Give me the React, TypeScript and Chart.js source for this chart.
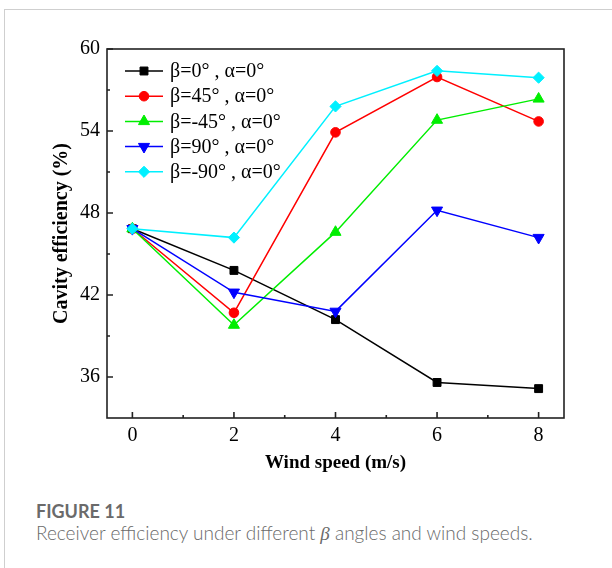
import React, { useEffect, useRef } from "react";
import { Chart, registerables } from "chart.js";

Chart.register(...registerables);

// ---- data ----
const windSpeeds = [0, 2, 4, 6, 8];
const seriesLabels = [
  "β=0° , α=0°",
  "β=45° , α=0°",
  "β=-45° , α=0°",
  "β=90° , α=0°",
  "β=-90° , α=0°",
];
const beta0 = [46.85, 43.8, 40.2, 35.6, 35.15];
const beta45 = [46.85, 40.7, 53.9, 57.95, 54.7];
const betaM45 = [46.85, 39.8, 46.6, 54.8, 56.35];
const beta90 = [46.85, 42.2, 40.8, 48.2, 46.2];
const betaM90 = [46.85, 46.2, 55.8, 58.4, 57.9];

const xTicks = [0, 2, 4, 6, 8];
const xMinorTicks = [1, 3, 5, 7];
const yTicks = [36, 42, 48, 54, 60];
const yMinorTicks = [39, 45, 51, 57];

const seriesColors = ["#000000", "#ff0000", "#00ee00", "#0000ff", "#00f0ff"];
const seriesPointStyles = ["rect", "circle", "triangle", "triangle", "rectRot"];
const seriesPointRotation = [0, 0, 0, 180, 0];
const seriesPointRadius = [5.6, 4.8, 6.4, 6.4, 5.6];

const serif = "'Liberation Serif', 'Times New Roman', serif";

const frameAndTicks = {
  id: "frameAndTicks",
  afterDatasetsDraw(chart: any) {
    const { ctx, chartArea } = chart;
    const { left, right, top, bottom } = chartArea;
    const xs = chart.scales.x;
    const ys = chart.scales.y;
    ctx.save();
    ctx.strokeStyle = "#222";
    ctx.lineWidth = 1.6;
    ctx.strokeRect(left, top, right - left, bottom - top);
    ctx.beginPath();
    xTicks.forEach((v) => {
      const px = xs.getPixelForValue(v);
      ctx.moveTo(px, bottom);
      ctx.lineTo(px, bottom - 6);
    });
    xMinorTicks.forEach((v) => {
      const px = xs.getPixelForValue(v);
      ctx.moveTo(px, bottom);
      ctx.lineTo(px, bottom - 3);
    });
    yTicks.forEach((v) => {
      const py = ys.getPixelForValue(v);
      ctx.moveTo(left, py);
      ctx.lineTo(left + 6, py);
    });
    yMinorTicks.forEach((v) => {
      const py = ys.getPixelForValue(v);
      ctx.moveTo(left, py);
      ctx.lineTo(left + 3, py);
    });
    ctx.stroke();
    ctx.restore();
  },
};

function drawMarker(ctx: CanvasRenderingContext2D, style: string, x: number, y: number, r: number, rot: number) {
  ctx.beginPath();
  if (style === "rect") {
    const s = Math.SQRT1_2 * r;
    ctx.rect(x - s, y - s, 2 * s, 2 * s);
  } else if (style === "circle") {
    ctx.arc(x, y, r, 0, Math.PI * 2);
  } else if (style === "rectRot") {
    ctx.moveTo(x - r, y);
    ctx.lineTo(x, y - r);
    ctx.lineTo(x + r, y);
    ctx.lineTo(x, y + r);
    ctx.closePath();
  } else if (style === "triangle") {
    let rad = (rot * Math.PI) / 180;
    ctx.moveTo(x + Math.sin(rad) * r, y - Math.cos(rad) * r);
    rad += (2 * Math.PI) / 3;
    ctx.lineTo(x + Math.sin(rad) * r, y - Math.cos(rad) * r);
    rad += (2 * Math.PI) / 3;
    ctx.lineTo(x + Math.sin(rad) * r, y - Math.cos(rad) * r);
    ctx.closePath();
  }
  ctx.fill();
  ctx.stroke();
}

const customLegend = {
  id: "customLegend",
  afterDraw(chart: any) {
    const { ctx, chartArea } = chart;
    const x0 = chartArea.left + 18;
    const x1 = x0 + 38;
    const xm = (x0 + x1) / 2;
    const tx = x1 + 7;
    const y0 = chartArea.top + 22;
    const dy = 25.2;
    ctx.save();
    chart.data.datasets.forEach((ds: any, i: number) => {
      const y = y0 + i * dy;
      ctx.strokeStyle = ds.borderColor;
      ctx.lineWidth = 1.5;
      ctx.beginPath();
      ctx.moveTo(x0, y);
      ctx.lineTo(x1, y);
      ctx.stroke();
      ctx.fillStyle = ds.pointBackgroundColor;
      ctx.strokeStyle = ds.pointBorderColor;
      ctx.lineWidth = 1;
      drawMarker(ctx, ds.pointStyle, xm, y, ds.pointRadius, ds.pointRotation);
      ctx.fillStyle = "#000";
      ctx.font = `20px ${serif}`;
      ctx.textBaseline = "middle";
      ctx.textAlign = "left";
      ctx.fillText(ds.label, tx, y + 1);
    });
    ctx.restore();
  },
};

export default function App() {
  const canvasRef = useRef<HTMLCanvasElement | null>(null);

  useEffect(() => {
    document.body.style.margin = "0";
    const canvas = canvasRef.current;
    if (!canvas) return;
    const values = [beta0, beta45, betaM45, beta90, betaM90];
    const chart = new Chart(canvas, {
      type: "line",
      data: {
        datasets: values.map((vals, i) => ({
          label: seriesLabels[i],
          data: windSpeeds.map((x, j) => ({ x, y: vals[j] })),
          borderColor: seriesColors[i],
          backgroundColor: seriesColors[i],
          pointBackgroundColor: seriesColors[i],
          pointBorderColor: seriesColors[i],
          pointStyle: seriesPointStyles[i] as any,
          pointRotation: seriesPointRotation[i],
          pointRadius: seriesPointRadius[i],
          pointBorderWidth: 1,
          borderWidth: 1.5,
          tension: 0,
          fill: false,
          order: values.length - i,
        })),
      },
      options: {
        animation: false,
        responsive: false,
        maintainAspectRatio: false,
        layout: { padding: { left: 0, top: 49, right: 48, bottom: 0 } },
        plugins: {
          legend: { display: false },
          tooltip: { enabled: false },
          title: { display: false },
        },
        scales: {
          x: {
            type: "linear",
            min: -0.5,
            max: 8.5,
            afterBuildTicks: (scale: any) => {
              scale.ticks = xTicks.map((v) => ({ value: v }));
            },
            afterFit: (scale: any) => {
              scale.height = 62;
            },
            grid: { display: false, drawTicks: false },
            border: { display: false },
            ticks: {
              color: "#000",
              font: { family: serif, size: 20 },
              padding: 6,
              maxRotation: 0,
            },
            title: {
              display: true,
              text: "Wind speed (m/s)",
              color: "#000",
              font: { family: serif, size: 19, weight: "bold" },
              padding: { top: 0, bottom: 6 },
            },
          },
          y: {
            type: "linear",
            min: 33,
            max: 60,
            afterBuildTicks: (scale: any) => {
              scale.ticks = yTicks.map((v) => ({ value: v }));
            },
            afterFit: (scale: any) => {
              scale.width = 107;
            },
            grid: { display: false, drawTicks: false },
            border: { display: false },
            ticks: {
              color: "#000",
              font: { family: serif, size: 20 },
              padding: 7,
            },
            title: {
              display: true,
              text: "Cavity efficiency (%)",
              color: "#000",
              font: { family: serif, size: 20, weight: "bold" },
              padding: { top: 50, bottom: 0 },
            },
          },
        },
      },
      plugins: [frameAndTicks, customLegend],
    });
    return () => chart.destroy();
  }, []);

  return (
    <div style={{ position: "absolute", left: 0, top: 0, width: 612, height: 568, overflow: "hidden", background: "#fff" }}>
      <div
        style={{
          position: "absolute",
          left: 4,
          top: 9,
          width: 700,
          height: 700,
          borderLeft: "1px solid #cfcfcf",
          borderTop: "1px solid #cfcfcf",
        }}
      />
      <canvas ref={canvasRef} width={612} height={480} style={{ position: "absolute", left: 0, top: 0, width: 612, height: 480 }} />
      <div
        style={{
          position: "absolute",
          left: 36,
          top: 499,
          fontFamily: "Lato, 'Open Sans', sans-serif",
          fontWeight: 700,
          fontSize: 18,
          color: "#6a6a6a",
          lineHeight: "24px",
        }}
      >
        FIGURE 11
      </div>
      <div
        style={{
          position: "absolute",
          left: 36,
          top: 521,
          fontFamily: "Lato, 'Open Sans', sans-serif",
          fontWeight: 300,
          fontSize: 19,
          color: "#6a6a6a",
          lineHeight: "24px",
          whiteSpace: "nowrap",
        }}
      >
        Receiver efficiency under different <i style={{ fontFamily: "'Liberation Serif', serif", fontWeight: 400 }}>β</i> angles and wind speeds.
      </div>
    </div>
  );
}
